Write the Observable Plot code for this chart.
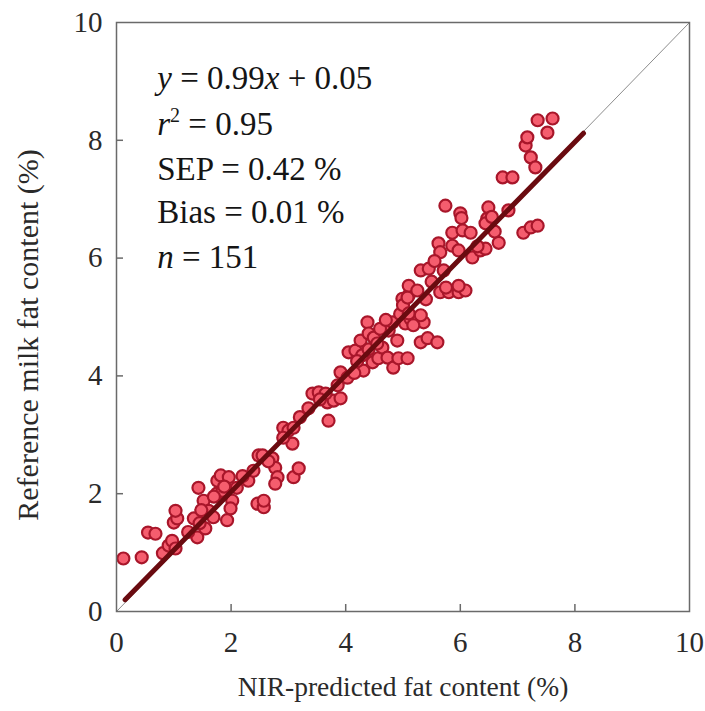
<!DOCTYPE html>
<html><head><meta charset="utf-8">
<script src="https://cdn.jsdelivr.net/npm/d3@7"></script>
<script src="https://cdn.jsdelivr.net/npm/@observablehq/plot@0.6"></script>
<style>html,body{margin:0;padding:0;background:#fff}</style>
</head><body><div id="chart"></div>
<script>
// NIR-predicted fat content (%)
const predicted = [
 0.12,0.44,0.55,0.68,0.81,0.91,0.97,1.03,1.00,1.06,1.03,1.35,1.41,1.43,1.52,1.55,1.61,1.69,1.76,1.82,
 1.96,2.02,1.93,1.99,2.30,2.39,2.46,2.57,2.57,2.48,1.45,1.75,1.85,1.25,1.70,2.10,2.20,1.48,1.88,
 2.55,2.72,2.77,2.81,2.77,3.09,3.18,2.91,3.00,3.09,3.07,2.91,3.35,3.42,3.53,3.68,3.79,3.91,3.70,3.86,
 3.65,3.20,3.91,4.03,2.65,3.55,
 4.05,4.17,4.26,4.29,4.38,4.40,4.49,4.31,4.47,4.57,4.64,4.73,4.83,4.92,5.08,4.90,5.04,5.13,5.27,5.36,
 5.31,5.43,5.60,4.99,5.10,4.75,4.82,4.20,4.40,4.60,4.15,4.55,4.95,5.00,
 5.65,5.80,5.97,5.31,5.45,5.71,5.10,5.08,5.75,6.09,5.97,5.10,5.31,5.18,5.62,5.65,5.86,5.97,6.21,6.35,
 6.44,6.67,5.86,6.04,6.18,5.74,6.00,6.02,6.49,6.47,6.44,6.84,5.50,5.55,5.25,5.40,
 7.10,7.23,7.35,6.74,6.91,7.14,7.17,7.23,7.31,7.35,7.61,7.52,6.55,6.30,6.60,4.70
];
// Reference milk fat content (%)
const reference = [
 0.90,0.92,1.34,1.32,0.99,1.12,1.20,1.07,1.51,1.58,1.71,1.58,1.26,2.10,1.88,1.41,1.71,1.60,2.22,2.31,
 2.28,1.88,1.55,1.75,2.22,2.39,1.83,1.77,1.88,2.65,1.50,2.00,2.05,1.35,1.95,2.10,2.30,1.72,2.12,
 2.65,2.60,2.44,2.28,2.17,2.28,2.43,3.12,3.07,3.12,2.85,2.95,3.45,3.70,3.72,3.55,3.58,3.62,3.24,3.84,
 3.70,3.30,4.06,3.97,2.55,3.60,
 4.40,4.43,4.60,4.35,4.91,4.72,4.65,4.09,4.23,4.30,4.48,4.31,4.14,4.30,4.30,4.60,4.89,4.97,4.99,4.91,
 4.57,4.64,4.57,5.31,5.37,4.77,4.91,4.25,4.45,4.80,4.05,4.55,5.05,5.20,
 5.42,5.42,5.42,5.79,5.82,5.79,5.53,5.33,5.50,5.45,5.53,5.06,5.03,4.86,6.25,6.10,6.21,6.13,6.01,6.13,
 6.16,6.26,6.43,6.47,6.43,6.89,6.76,6.68,6.86,6.67,6.59,6.81,5.60,5.95,5.45,5.30,
 6.43,6.52,6.55,7.37,7.37,7.91,8.05,7.71,7.54,8.34,8.37,8.13,6.70,6.20,6.45,4.95
];
// regression line end points and 1:1 line
const fitX = [0.15, 8.15];
const fitY = [0.20, 8.12];
const identityX = [0, 10];
const identityY = [0, 10];
const tickValues = [0, 2, 4, 6, 8, 10];
const innerTicks = [2, 4, 6, 8];
const xTitle = "NIR-predicted fat content (%)";
const yTitle = "Reference milk fat content (%)";
// statistics block: pieces [text, style]
const statParts = [
  [["y", "i"], [" = 0.99", ""], ["x", "i"], [" + 0.05", ""]],
  [["r", "i"], ["2", "sup"], [" = 0.95", "after"]],
  [["SEP = 0.42 %", ""]],
  [["Bias = 0.01 %", ""]],
  [["n", "i"], [" = 151", ""]]
];
const statX = 0.72;
const statY = [8.86, 8.08, 7.32, 6.58, 5.83];

const points = predicted.map((x, i) => ({x, y: reference[i]}));
const fit = fitX.map((x, i) => ({x, y: fitY[i]}));
const ident = identityX.map((x, i) => ({x, y: identityY[i]}));

const FONT = "'Liberation Serif', 'Times New Roman', serif";
const TXT = "#2a2a2a";
const plot = Plot.plot({
  width: 705, height: 711,
  marginLeft: 116, marginRight: 16, marginTop: 22, marginBottom: 100,
  x: {domain: [0, 10]},
  y: {domain: [0, 10]},
  style: {fontFamily: FONT, fontSize: "29px", color: TXT, background: "#fff"},
  marks: [
    Plot.line(ident, {x: "x", y: "y", stroke: "#8c8c8c", strokeWidth: 1}),
    Plot.dot(points, {x: "x", y: "y", r: 6, fill: "#f55d6e", stroke: "#a8162a", strokeWidth: 2.2}),
    Plot.line(fit, {x: "x", y: "y", stroke: "#6a0b10", strokeWidth: 5}),
    Plot.frame({stroke: "#6a6a6a", strokeWidth: 1.5}),
    Plot.axisX({ticks: innerTicks, tickSize: 7, dy: -7, fill: "none", stroke: "#6a6a6a", strokeWidth: 1.5, label: null}),
    Plot.axisY({ticks: innerTicks, tickSize: 7, dx: 7, fill: "none", stroke: "#6a6a6a", strokeWidth: 1.5, label: null}),
    Plot.axisX({ticks: tickValues, tickSize: 0, tickPadding: 20, label: null, fill: TXT, fontSize: 29}),
    Plot.axisY({ticks: tickValues, tickSize: 0, tickPadding: 14, label: null, fill: TXT, fontSize: 29}),
    Plot.text([xTitle], {text: d => d, frameAnchor: "bottom", dy: 84, fill: TXT, fontSize: 27.5}),
    Plot.text([yTitle], {text: d => d, frameAnchor: "left", textAnchor: "middle", dx: -88, dy: 18, rotate: -90, fill: TXT, fontSize: 30})
  ]
});

const sx = plot.scale("x"), sy = plot.scale("y");
const g = d3.select(plot).append("g")
  .attr("font-family", FONT).attr("font-size", 33).attr("fill", "#151515")
  .attr("text-anchor", "start");
statParts.forEach((parts, k) => {
  const t = g.append("text").attr("x", sx.apply(statX)).attr("y", sy.apply(statY[k]));
  parts.forEach(([txt, st]) => {
    const ts = t.append("tspan").text(txt);
    if (st === "i") ts.attr("font-style", "italic");
    if (st === "sup") ts.attr("font-size", 20).attr("dy", -13);
    if (st === "after") ts.attr("dy", 13);
  });
});
document.getElementById("chart").appendChild(plot);
</script>
</body></html>
